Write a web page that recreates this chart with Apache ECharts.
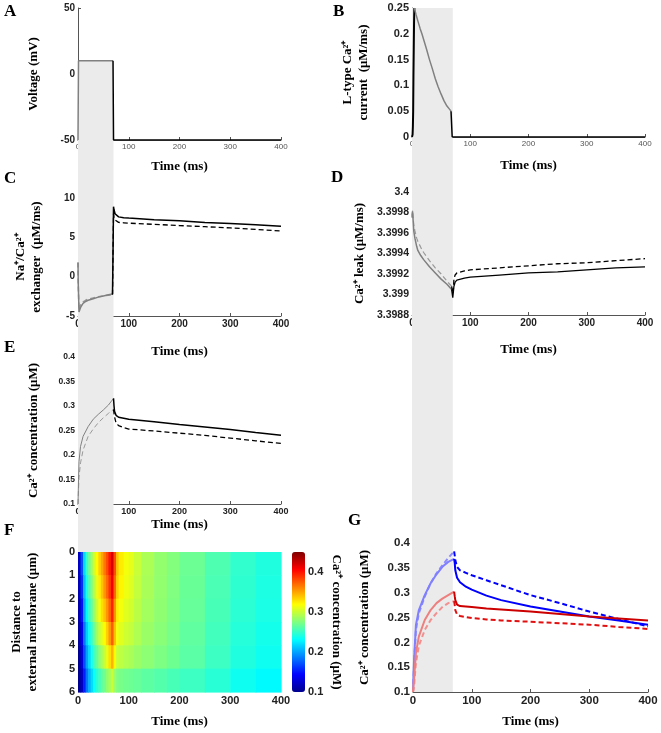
<!DOCTYPE html>
<html><head><meta charset="utf-8">
<script src="https://cdn.jsdelivr.net/npm/echarts@6/dist/echarts.min.js"></script>
<style>html,body{margin:0;padding:0;background:#fff}#c{width:661px;height:733px}</style>
</head><body><div id="c"></div>
<script>
// ---------- DATA ----------
const stimulusWindow = [0, 70];
const timeTicks = [0, 100, 200, 300, 400];

// A: voltage (mV)
const tA_stim = [0, 1, 69];
const vA_stim = [-50, 10, 10];
const tA_rest = [69, 70, 400];
const vA_rest = [10, -50, -50];

// B: L-type Ca2+ current (uM/ms)
const tB_rise = [0, 1, 1.5, 2, 2.5, 3, 3.5, 4];
const vB_rise = [0, 0.005, 0.02, 0.05, 0.12, 0.17, 0.22, 0.25];
const tB_decay = [4, 7, 10, 14, 17, 21, 25, 30, 35, 40, 45, 50, 55, 60, 65, 67];
const vB_decay = [0.25, 0.237, 0.225, 0.21, 0.2, 0.185, 0.17, 0.15, 0.132, 0.113, 0.097, 0.083, 0.07, 0.06, 0.053, 0.05];
const tB_off = [67, 69, 400];
const vB_off = [0.05, 0, 0];

// C: Na+/Ca2+ exchanger (x1e-3 uM/ms)
const tC_stim = [0, 0.5, 2, 4, 6, 10, 15, 20, 30, 40, 50, 60, 68];
const vC_stimSolid = [1.8, -1, -4.5, -4.1, -3.8, -3.4, -3.15, -3.0, -2.8, -2.6, -2.45, -2.3, -2.2];
const vC_stimDash = [1.8, -1, -4.2, -3.8, -3.5, -3.2, -3.0, -2.85, -2.7, -2.55, -2.45, -2.35, -2.3];
const tC_post = [68, 69, 70, 71, 73, 76, 80, 90, 100, 150, 200, 250, 300, 350, 400];
const vC_postSolid = [-2.2, 3, 8.9, 8.5, 8.0, 7.75, 7.6, 7.5, 7.45, 7.25, 7.1, 6.9, 6.75, 6.6, 6.4];
const vC_postDash = [-2.3, 3, 8.0, 7.6, 7.2, 7.0, 6.9, 6.85, 6.8, 6.65, 6.5, 6.35, 6.2, 6.0, 5.8];

// D: Ca2+ leak (x1e-3 uM/ms)
const tD_stim = [0, 1, 2, 3, 5, 8, 10, 15, 20, 30, 40, 50, 60, 68];
const vD_stimSolid = [3.39975, 3.39981, 3.39972, 3.39962, 3.39955, 3.39947, 3.39943, 3.39938, 3.39934, 3.39927, 3.39921, 3.39915, 3.39910, 3.39905];
const vD_stimDash = [3.39977, 3.39982, 3.39975, 3.39968, 3.39962, 3.39955, 3.39952, 3.39946, 3.39941, 3.39933, 3.39926, 3.3992, 3.39913, 3.39908];
const tD_post = [68, 70, 71, 72, 74, 77, 80, 90, 100, 150, 200, 250, 300, 350, 400];
const vD_postSolid = [3.39905, 3.39897, 3.39898, 3.39908, 3.39912, 3.39914, 3.39915, 3.39916, 3.39917, 3.39919, 3.39921, 3.39922, 3.39924, 3.39926, 3.39927];
const vD_postDash = [3.39908, 3.39901, 3.39905, 3.39915, 3.39919, 3.39921, 3.39922, 3.39923, 3.39924, 3.39926, 3.39928, 3.3993, 3.39931, 3.39933, 3.39935];

// E: Ca2+ concentration (uM)
const tE_stim = [0, 1, 2, 5, 10, 20, 30, 40, 50, 60, 70];
const vE_stimSolid = [0.1, 0.15, 0.187, 0.2175, 0.238, 0.258, 0.273, 0.283, 0.292, 0.302, 0.3155];
const vE_stimDash = [0.1, 0.13, 0.155, 0.184, 0.21, 0.238, 0.253, 0.266, 0.276, 0.285, 0.293];
const tE_post = [70, 71, 72, 75, 80, 90, 100, 150, 200, 250, 300, 350, 400];
const vE_postSolid = [0.3155, 0.3, 0.289, 0.281, 0.277, 0.275, 0.273, 0.268, 0.262, 0.257, 0.252, 0.246, 0.2405];
const vE_postDash = [0.293, 0.285, 0.278, 0.265, 0.26, 0.256, 0.253, 0.249, 0.2445, 0.24, 0.2345, 0.229, 0.2235];

// F: Ca2+ concentration map (rows = depth bands, columns = time bins)
const fTimeEdges = [0, 5, 10, 15, 20, 25, 30, 35, 40, 45, 50, 55, 60, 65, 70, 75, 80, 90, 100, 110, 125, 150, 175, 200, 250, 300, 350, 400];
const fDepthEdges = [0, 1, 2, 3, 4, 5, 6];
const fDepth0 = [0.12, 0.17, 0.22, 0.25, 0.27, 0.29, 0.305, 0.32, 0.335, 0.35, 0.365, 0.38, 0.40, 0.42, 0.38, 0.34, 0.325, 0.315, 0.31, 0.30, 0.29, 0.282, 0.276, 0.268, 0.258, 0.248, 0.242];
const fDepth1 = [0.115, 0.16, 0.21, 0.24, 0.26, 0.28, 0.295, 0.31, 0.325, 0.34, 0.355, 0.37, 0.39, 0.41, 0.37, 0.335, 0.322, 0.313, 0.307, 0.298, 0.289, 0.281, 0.275, 0.267, 0.257, 0.247, 0.241];
const fDepth2 = [0.11, 0.15, 0.2, 0.23, 0.25, 0.27, 0.285, 0.30, 0.315, 0.33, 0.34, 0.355, 0.375, 0.395, 0.355, 0.325, 0.315, 0.308, 0.303, 0.295, 0.287, 0.28, 0.274, 0.266, 0.256, 0.246, 0.24];
const fDepth3 = [0.105, 0.14, 0.185, 0.215, 0.235, 0.255, 0.27, 0.285, 0.30, 0.31, 0.32, 0.335, 0.355, 0.375, 0.34, 0.315, 0.308, 0.302, 0.298, 0.291, 0.284, 0.278, 0.272, 0.264, 0.254, 0.244, 0.238];
const fDepth4 = [0.1, 0.13, 0.17, 0.2, 0.22, 0.24, 0.255, 0.265, 0.28, 0.29, 0.3, 0.31, 0.33, 0.345, 0.32, 0.3, 0.296, 0.292, 0.289, 0.284, 0.279, 0.274, 0.269, 0.262, 0.252, 0.242, 0.236];
const fDepth5 = [0.1, 0.12, 0.155, 0.185, 0.205, 0.22, 0.235, 0.245, 0.255, 0.265, 0.27, 0.28, 0.29, 0.3, 0.285, 0.275, 0.272, 0.27, 0.268, 0.266, 0.263, 0.26, 0.256, 0.252, 0.245, 0.236, 0.23];
const fConc = [fDepth0, fDepth1, fDepth2, fDepth3, fDepth4, fDepth5];
const colorbarTicks = [0.1, 0.2, 0.3, 0.4];

// G: Ca2+ concentration (uM), blue and red cases
const tG_stim = [0, 1, 2, 5, 10, 20, 30, 40, 50, 60, 70];
const tG_post = [70, 71, 72, 75, 80, 90, 100, 125, 150, 200, 250, 300, 350, 400];
const vG_blueStimSolid = [0.1, 0.14, 0.17, 0.235, 0.265, 0.295, 0.319, 0.337, 0.352, 0.362, 0.368];
const vG_bluePostSolid = [0.368, 0.36, 0.345, 0.33, 0.321, 0.312, 0.306, 0.294, 0.285, 0.272, 0.262, 0.252, 0.244, 0.2355];
const vG_blueStimDash = [0.1, 0.13, 0.16, 0.225, 0.259, 0.292, 0.319, 0.339, 0.355, 0.37, 0.383];
const vG_bluePostDash = [0.383, 0.375, 0.365, 0.352, 0.345, 0.34, 0.335, 0.325, 0.315, 0.295, 0.279, 0.262, 0.247, 0.232];
const vG_redStimSolid = [0.1, 0.115, 0.13, 0.179, 0.212, 0.245, 0.265, 0.279, 0.288, 0.295, 0.302];
const vG_redPostSolid = [0.302, 0.293, 0.285, 0.276, 0.273, 0.272, 0.271, 0.268, 0.266, 0.262, 0.257, 0.252, 0.248, 0.244];
const vG_redStimDash = [0.1, 0.105, 0.115, 0.159, 0.193, 0.225, 0.245, 0.259, 0.271, 0.279, 0.283];
const vG_redPostDash = [0.283, 0.275, 0.265, 0.256, 0.253, 0.251, 0.249, 0.246, 0.244, 0.2415, 0.2385, 0.2355, 0.231, 0.227];

// ---------- CHART ----------
const SANS = '"Liberation Sans", Arial, sans-serif';
const SERIF = '"Liberation Serif", "Times New Roman", serif';
const chart = echarts.init(document.getElementById('c'), null, {width: 661, height: 733});

const zip = (t, v) => t.map((x, i) => [x, v[i]]);
const fmt = d => v => String(+v.toFixed(d));

function line(i, t, v, color, width, dashed, z) {
  return {type: 'line', xAxisIndex: i, yAxisIndex: i, data: zip(t, v), showSymbol: false, symbol: 'none',
    lineStyle: {color: color, width: width, type: dashed ? [5, 3] : 'solid'}, z: z || 3, silent: true, animation: false};
}

const grids = [
  {left: 78, top: 8, width: 203, height: 132},   // 0 A
  {left: 412, top: 8, width: 233, height: 129},  // 1 B
  {left: 78, top: 198, width: 203, height: 118}, // 2 C
  {left: 412, top: 192, width: 233, height: 123},// 3 D
  {left: 78, top: 357, width: 203, height: 147}, // 4 E
  {left: 78, top: 552, width: 203, height: 140}, // 5 F
  {left: 292, top: 552, width: 13, height: 140}, // 6 colorbar axis
  {left: 413, top: 543, width: 235, height: 149},// 7 G
  {left: 78, top: 61, width: 203, height: 491},  // 8 left band
  {left: 412, top: 8, width: 233, height: 684}   // 9 right band
];

const axisLine = {onZero: false, lineStyle: {color: '#555', width: 1}};
const axisTick = {inside: true, length: 3, lineStyle: {color: '#555'}};
const nameStyle = {fontFamily: SERIF, fontWeight: 'bold', fontSize: 13, color: '#000'};

function xa(i, gap, lab) {
  return {type: 'value', gridIndex: i, min: 0, max: 400, interval: 100, axisLine, axisTick,
    splitLine: {show: false},
    axisLabel: Object.assign({fontFamily: SANS, margin: 3, color: '#222'}, lab),
    name: 'Time (ms)', nameLocation: 'middle', nameGap: gap, nameTextStyle: nameStyle};
}
function ya(i, min, max, interval, name, gap, lab, extra) {
  return Object.assign({type: 'value', gridIndex: i, min, max, interval,
    axisLine: {show: true, onZero: false, lineStyle: axisLine.lineStyle}, axisTick,
    splitLine: {show: false},
    axisLabel: Object.assign({fontFamily: SANS, margin: 3, color: '#222'}, lab),
    name, nameLocation: 'middle', nameGap: gap, nameTextStyle: Object.assign({lineHeight: 16}, nameStyle)}, extra || {});
}

const xAxes = [
  xa(0, 20, {fontSize: 8, color: '#555'}),
  xa(1, 22, {fontSize: 8, color: '#555'}),
  xa(2, 29, {fontSize: 10, fontWeight: 'bold'}),
  xa(3, 28, {fontSize: 10, fontWeight: 'bold'}),
  xa(4, 14, {fontSize: 9, fontWeight: 'bold'}),
  xa(5, 23, {fontSize: 11, fontWeight: 'bold'}),
  {type: 'value', gridIndex: 6, min: 0, max: 1, show: false},
  xa(7, 23, {fontSize: 11.5, fontWeight: 'bold'}),
  {type: 'value', gridIndex: 8, min: 0, max: 400, show: false},
  {type: 'value', gridIndex: 9, min: 0, max: 400, show: false}
];
xAxes[5].axisLine = {show: false, onZero: false};
xAxes[5].axisTick = {show: false};

const yAxes = [
  ya(0, -50, 50, 50, 'Voltage (mV)', 36, {fontSize: 10, fontWeight: 'bold'}),
  ya(1, 0, 0.25, 0.05, 'L-type Ca²⁺\ncurrent  (μM/ms)', 40, {fontSize: 11, fontWeight: 'bold', formatter: fmt(2)}),
  ya(2, -5, 10, 5, 'Na⁺/Ca²⁺\nexchanger  (μM/ms)', 33, {fontSize: 10, fontWeight: 'bold'}),
  ya(3, 3.3988, 3.4, 0.0002, 'Ca²⁺ leak (μM/ms)', 44, {fontSize: 10.5, fontWeight: 'bold', formatter: fmt(4)}),
  ya(4, 0.1, 0.4, 0.05, 'Ca²⁺ concentration (μM)', 36, {fontSize: 8.5, fontWeight: 'bold', formatter: fmt(2)}),
  ya(5, 0, 6, 1, 'Distance to\nexternal membrane (μm)', 37, {fontSize: 11, fontWeight: 'bold'}, {inverse: true, axisLine: {show: false, onZero: false}, axisTick: {show: false}}),
  ya(6, 0.1, 0.45, 0.1, '', 23, {fontSize: 11, fontWeight: 'bold', formatter: fmt(1),
      customValues: colorbarTicks}, {position: 'right', axisLine: {show: false, onZero: false}, axisTick: {show: false}}),
  ya(7, 0.1, 0.4, 0.05, 'Ca²⁺ concentration (μM)', 40, {fontSize: 11.5, fontWeight: 'bold', formatter: fmt(2)}),
  {type: 'value', gridIndex: 8, min: 0, max: 1, show: false},
  {type: 'value', gridIndex: 9, min: 0, max: 1, show: false}
];

const BAND = '#ebebeb';
function band(i) {
  return {type: 'line', xAxisIndex: i, yAxisIndex: i, data: [[stimulusWindow[0], 0]], showSymbol: false,
    lineStyle: {opacity: 0}, silent: true, z: -1,
    markArea: {silent: true, itemStyle: {color: BAND}, data: [[{xAxis: stimulusWindow[0]}, {xAxis: stimulusWindow[1]}]]}};
}

const heatData = [];
fConc.forEach((row, r) => row.forEach((v, c) => heatData.push([fTimeEdges[c], fTimeEdges[c + 1], fDepthEdges[r], fDepthEdges[r + 1], v])));

const GRAY = '#808080', BLACK = '#000';
const series = [
  band(8), band(9),
  line(0, tA_stim, vA_stim, GRAY, 1.5),
  line(0, tA_rest, vA_rest, BLACK, 1.5),
  line(1, tB_rise, vB_rise, BLACK, 2),
  line(1, tB_decay, vB_decay, GRAY, 1.5),
  line(1, tB_off, vB_off, BLACK, 1.5),
  line(2, tC_stim, vC_stimDash, '#999', 1.5, true),
  line(2, tC_stim, vC_stimSolid, GRAY, 1.5),
  line(2, tC_post, vC_postDash, BLACK, 1.3, true),
  line(2, tC_post, vC_postSolid, BLACK, 1.5),
  line(3, tD_stim, vD_stimDash, '#999', 1.2, true),
  line(3, tD_stim, vD_stimSolid, GRAY, 1.5),
  line(3, tD_post, vD_postDash, BLACK, 1.3, true),
  line(3, tD_post, vD_postSolid, BLACK, 1.3),
  line(4, tE_stim, vE_stimDash, '#999', 1, true),
  line(4, tE_stim, vE_stimSolid, GRAY, 1),
  line(4, tE_post, vE_postDash, BLACK, 1.3, true),
  line(4, tE_post, vE_postSolid, BLACK, 1.5),
  {type: 'custom', xAxisIndex: 5, yAxisIndex: 5, data: heatData, encode: {x: [0, 1], y: [2, 3]}, silent: true, z: 3,
    renderItem: function (params, api) {
      const p0 = api.coord([api.value(0), api.value(2)]);
      const p1 = api.coord([api.value(1), api.value(3)]);
      return {type: 'rect', shape: {x: Math.min(p0[0], p1[0]), y: Math.min(p0[1], p1[1]),
        width: Math.abs(p1[0] - p0[0]) + 0.6, height: Math.abs(p1[1] - p0[1]) + 0.6},
        style: {fill: api.visual('color')}};
    }},
  line(7, tG_stim, vG_blueStimDash, '#8c8cff', 2, true),
  line(7, tG_stim, vG_blueStimSolid, '#7f7fff', 2),
  line(7, tG_stim, vG_redStimDash, '#f29090', 2, true),
  line(7, tG_stim, vG_redStimSolid, '#ee7f7f', 2),
  line(7, tG_post, vG_bluePostDash, '#0000ff', 2, true),
  line(7, tG_post, vG_bluePostSolid, '#0000ff', 2),
  line(7, tG_post, vG_redPostDash, '#e01010', 2, true),
  line(7, tG_post, vG_redPostSolid, '#cc0000', 2)
];
const heatIndex = series.findIndex(s => s.type === 'custom');

const letter = (t, x, y) => ({type: 'text', left: x, top: y, silent: true,
  style: {text: t, font: 'bold 17px ' + SERIF, fill: '#000'}});
const expo = (x, y) => ({type: 'text', left: x, top: y, silent: true,
  style: {text: '× 10⁻³', font: '9px ' + SANS, fill: '#777'}});

chart.setOption({
  animation: false,
  backgroundColor: '#fff',
  grid: grids,
  xAxis: xAxes,
  yAxis: yAxes,
  visualMap: {type: 'continuous', min: 0.1, max: 0.45, dimension: 4, seriesIndex: heatIndex,
    left: 292, top: 552, itemWidth: 13, itemHeight: 140, padding: 0, calculable: false, text: null,
    showLabel: false, hoverLink: false,
    inRange: {color: ['#00008f', '#0000ff', '#0080ff', '#00ffff', '#80ff80', '#ffff00', '#ff8000', '#ff0000', '#800000']}},
  series: series,
  graphic: [
    letter('A', 4, 3), letter('B', 333, 3), letter('C', 4, 170), letter('D', 331, 169),
    letter('E', 4, 339), letter('F', 4, 522), letter('G', 348, 512),
    expo(81, 188), expo(415, 184),
    {type: 'text', x: 336, y: 622, rotation: -Math.PI / 2, silent: true,
      style: {text: 'Ca²⁺ concentration (μM)', font: 'bold 13px ' + SERIF, fill: '#000', align: 'center', verticalAlign: 'middle'}}
  ]
});
</script></body></html>
